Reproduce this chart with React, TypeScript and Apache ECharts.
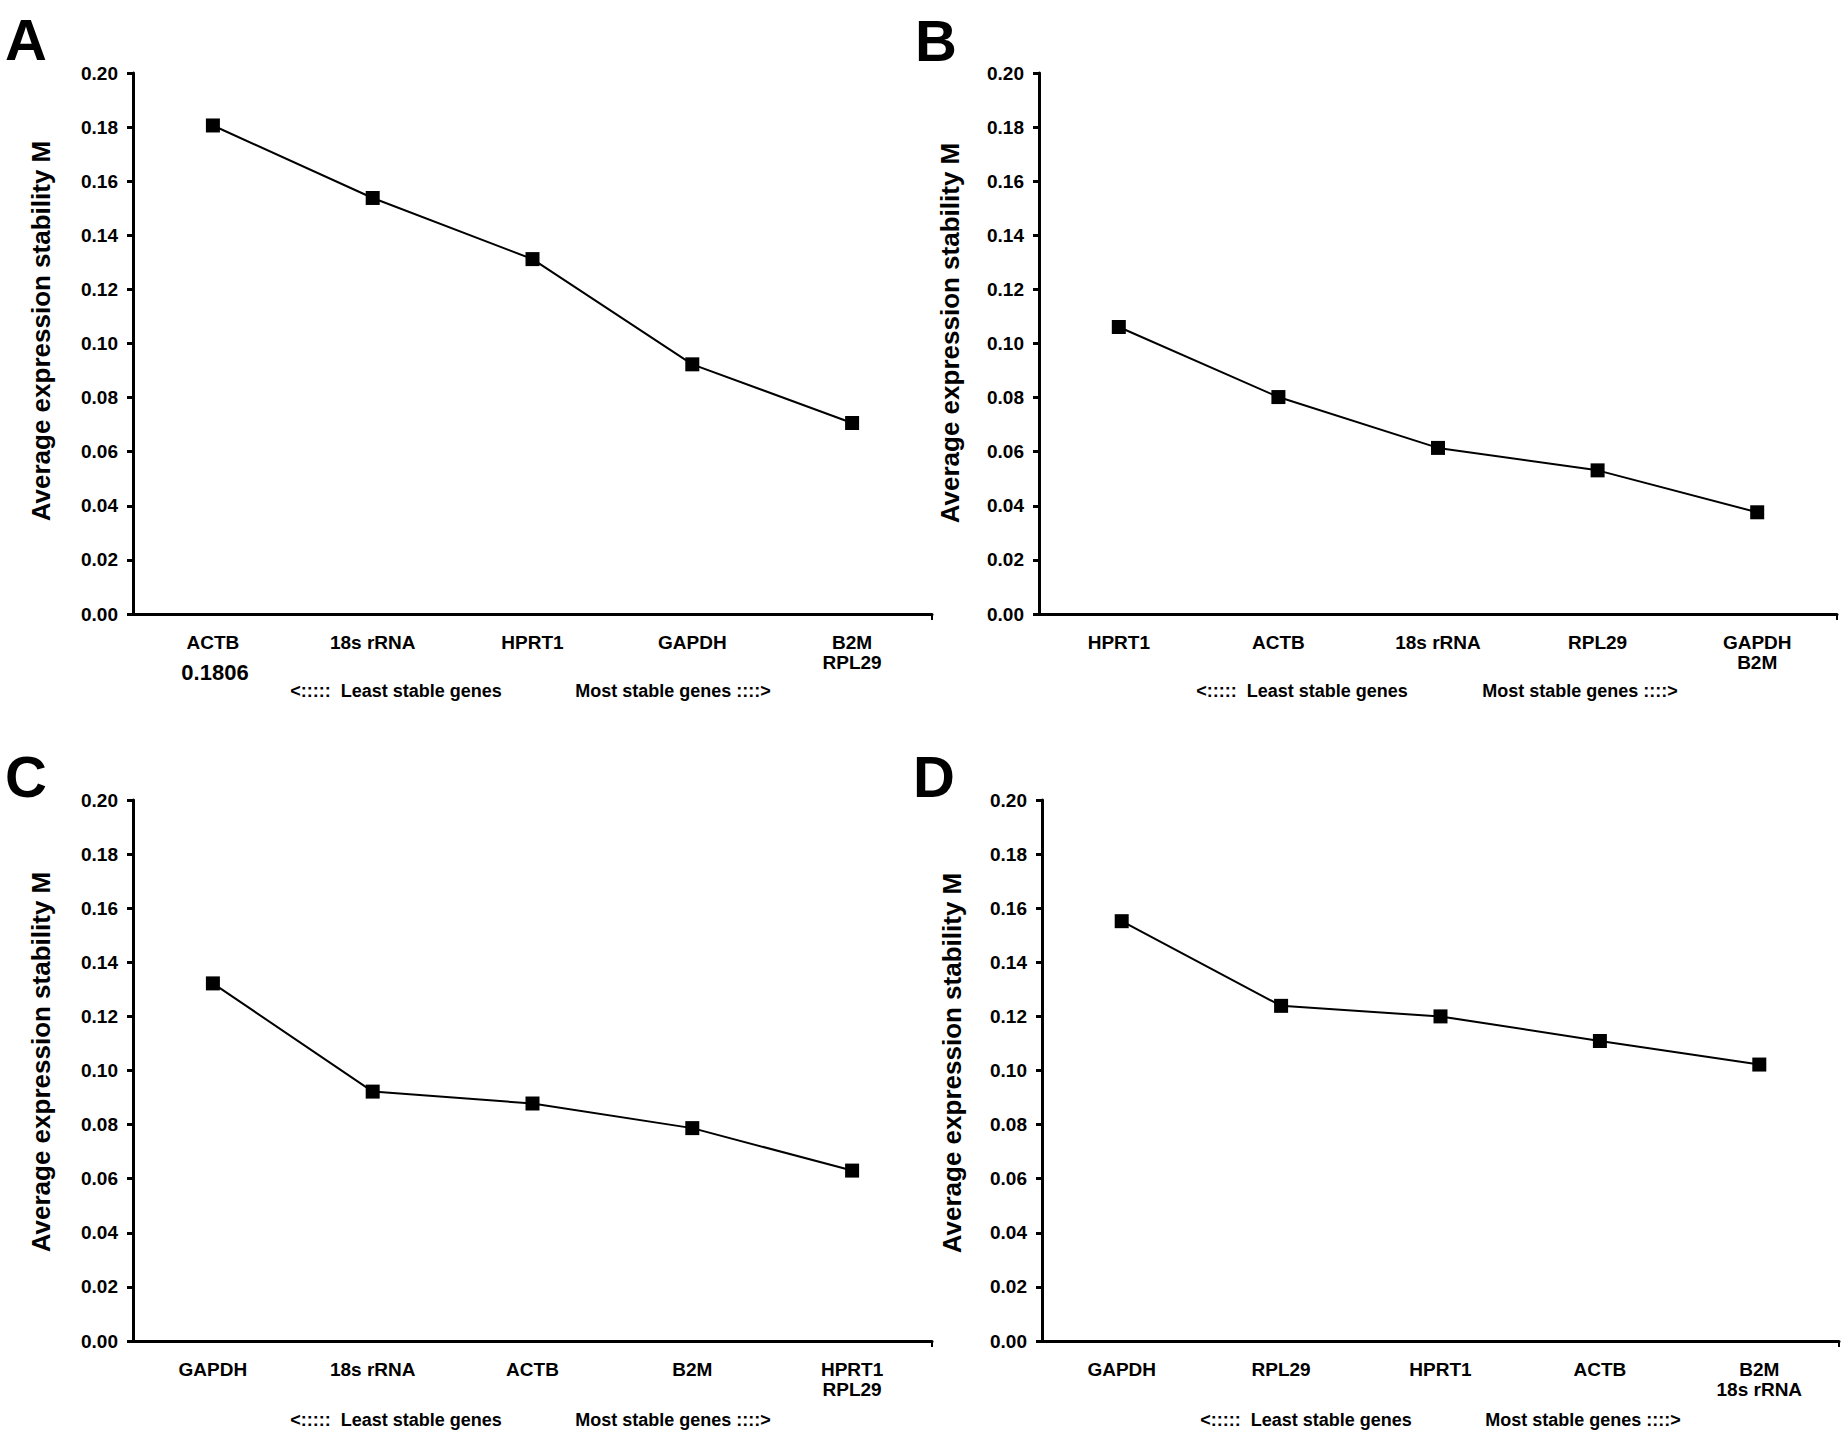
import React, { useEffect, useRef } from "react";
import * as echarts from "echarts";

const catsA = ["ACTB", "18s rRNA", "HPRT1", "GAPDH", "B2M\nRPL29"];
const valsA = [0.1806, 0.1538, 0.1312, 0.0923, 0.0706];
const catsB = ["HPRT1", "ACTB", "18s rRNA", "RPL29", "GAPDH\nB2M"];
const valsB = [0.1061, 0.0802, 0.0614, 0.0531, 0.0376];
const catsC = ["GAPDH", "18s rRNA", "ACTB", "B2M", "HPRT1\nRPL29"];
const valsC = [0.1322, 0.0922, 0.0878, 0.0787, 0.063];
const catsD = ["GAPDH", "RPL29", "HPRT1", "ACTB", "B2M\n18s rRNA"];
const valsD = [0.1552, 0.1239, 0.12, 0.1109, 0.1022];

const panelLetters = ["A", "B", "C", "D"];
const yTitle = "Average expression stability M";
const leastText = "<:::::  Least stable genes";
const mostText = "Most stable genes ::::>";
const actbNote = "0.1806";

const FONT = '"Liberation Sans", Arial, Helvetica, sans-serif';

const panels = [
  { cats: catsA, vals: valsA, left: 133, top: 73, width: 799, height: 541, letter: [26, 39], title: [41, 331], least: [396, 691], most: [673, 691] },
  { cats: catsB, vals: valsB, left: 1039, top: 73, width: 798, height: 541, letter: [936, 40], title: [950, 333], least: [1302, 691], most: [1580, 691] },
  { cats: catsC, vals: valsC, left: 133, top: 800, width: 799, height: 541, letter: [26, 776], title: [41, 1062], least: [396, 1420], most: [673, 1420] },
  { cats: catsD, vals: valsD, left: 1042, top: 800, width: 797, height: 541, letter: [934, 776], title: [952, 1063], least: [1306, 1420], most: [1583, 1420] },
];

export default function App() {
  const ref = useRef<HTMLDivElement>(null);
  useEffect(() => {
    if (!ref.current) return;
    const chart = echarts.init(ref.current, undefined, { renderer: "svg" });
    const grid: any[] = [];
    const xAxis: any[] = [];
    const yAxis: any[] = [];
    const series: any[] = [];
    const graphic: any[] = [];
    panels.forEach((p, i) => {
      grid.push({ left: p.left, top: p.top, width: p.width, height: p.height, containLabel: false });
      xAxis.push({
        type: "category",
        gridIndex: i,
        data: p.cats,
        boundaryGap: true,
        axisLine: { lineStyle: { color: "#000", width: 3 } },
        axisTick: { alignWithLabel: true, length: 6, lineStyle: { color: "#000", width: 2 } },
        axisLabel: {
          color: "#000",
          fontFamily: FONT,
          fontWeight: "bold",
          fontSize: 19,
          lineHeight: 20,
          margin: 18,
          interval: 0,
        },
        splitLine: { show: false },
      });
      yAxis.push({
        type: "value",
        gridIndex: i,
        min: 0,
        max: 0.2,
        interval: 0.02,
        axisLine: { show: true, lineStyle: { color: "#000", width: 3 } },
        axisTick: { show: true, length: 6, lineStyle: { color: "#000", width: 3 } },
        axisLabel: {
          color: "#000",
          fontFamily: FONT,
          fontWeight: "bold",
          fontSize: 19,
          margin: 15,
          formatter: (v: number) => v.toFixed(2),
        },
        splitLine: { show: false },
      });
      series.push({
        type: "line",
        xAxisIndex: i,
        yAxisIndex: i,
        data: p.vals,
        symbol: "rect",
        symbolSize: 14,
        lineStyle: { color: "#000", width: 2 },
        itemStyle: { color: "#000" },
        silent: true,
      });
      const axisY = p.top + p.height;
      const rightX = p.left + p.width;
      graphic.push({
        type: "line",
        shape: { x1: rightX, y1: axisY, x2: rightX, y2: axisY + 6 },
        style: { stroke: "#000", lineWidth: 2 },
      });
      graphic.push({
        type: "text",
        x: p.letter[0],
        y: p.letter[1],
        style: {
          text: panelLetters[i],
          font: `bold 58px ${FONT}`,
          fill: "#000",
          align: "center",
          verticalAlign: "middle",
          textAlign: "center",
          textVerticalAlign: "middle",
        },
      });
      graphic.push({
        type: "text",
        x: p.title[0],
        y: p.title[1],
        rotation: Math.PI / 2,
        style: {
          text: yTitle,
          font: `bold 26px ${FONT}`,
          fill: "#000",
          align: "center",
          verticalAlign: "middle",
          textAlign: "center",
          textVerticalAlign: "middle",
        },
      });
      graphic.push({
        type: "text",
        x: p.least[0],
        y: p.least[1],
        style: {
          text: leastText,
          font: `bold 18px ${FONT}`,
          fill: "#000",
          align: "center",
          verticalAlign: "middle",
          textAlign: "center",
          textVerticalAlign: "middle",
        },
      });
      graphic.push({
        type: "text",
        x: p.most[0],
        y: p.most[1],
        style: {
          text: mostText,
          font: `bold 18px ${FONT}`,
          fill: "#000",
          align: "center",
          verticalAlign: "middle",
          textAlign: "center",
          textVerticalAlign: "middle",
        },
      });
    });
    graphic.push({
      type: "text",
      x: 215,
      y: 672,
      style: {
        text: actbNote,
        font: `bold 22px ${FONT}`,
        fill: "#000",
        align: "center",
        verticalAlign: "middle",
        textAlign: "center",
        textVerticalAlign: "middle",
      },
    });
    chart.setOption({
      animation: false,
      backgroundColor: "#fff",
      grid,
      xAxis,
      yAxis,
      series,
      graphic,
    });
    return () => chart.dispose();
  }, []);
  return (
    <div
      ref={ref}
      style={{ position: "absolute", left: 0, top: 0, width: 1843, height: 1451, background: "#fff" }}
    />
  );
}
